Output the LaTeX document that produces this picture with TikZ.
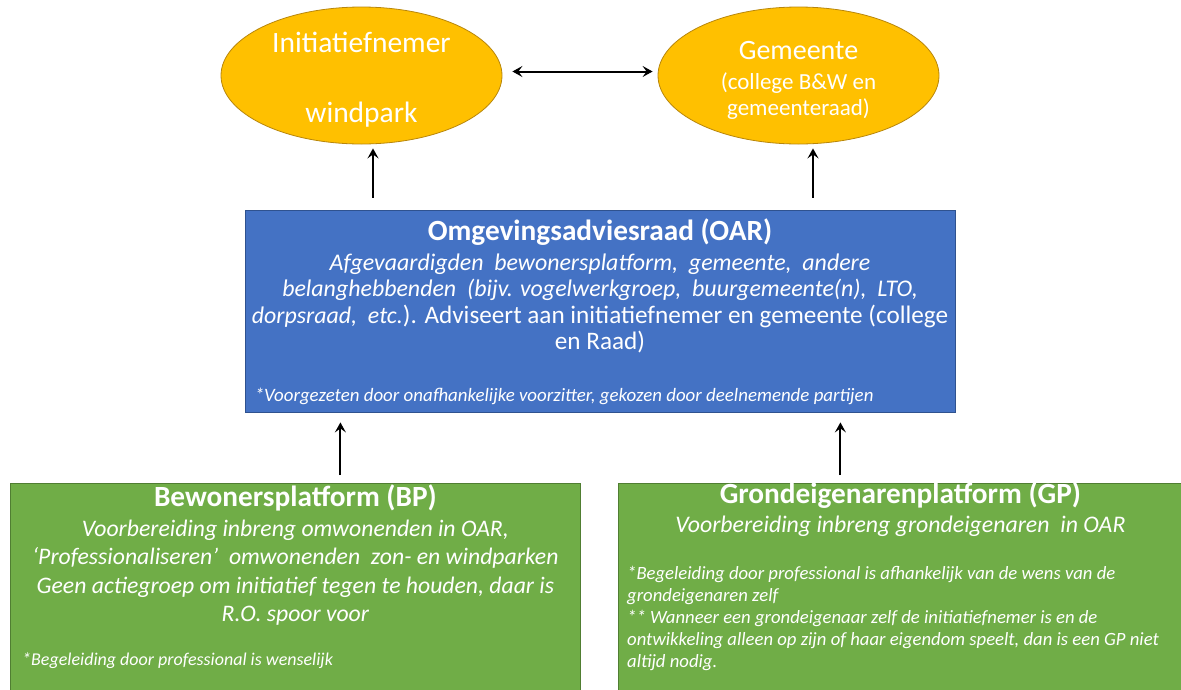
\documentclass[tikz,border=0pt]{standalone}
\usepackage{fontspec}
\setmainfont{Carlito}
\usetikzlibrary{shapes.geometric,arrows.meta,positioning}

\definecolor{partyfill}{HTML}{FFC000}
\definecolor{partyline}{HTML}{B8860B}
\definecolor{oarfill}{HTML}{4472C4}
\definecolor{oarline}{HTML}{2F528F}
\definecolor{bpfill}{HTML}{70AD47}
\definecolor{bpline}{HTML}{507E32}

\begin{document}
\begin{tikzpicture}[x=1pt,y=-1pt,
  >={Stealth[length=10pt,width=11pt,inset=4pt]},
  flow/.style={line width=2pt,->},
  party/.style={ellipse,draw=partyline,line width=0.8pt,fill=partyfill,inner sep=0pt,minimum width=281pt,minimum height=137pt},
  partytext/.style={text=white,align=center,inner sep=0pt},
  panel/.style={rectangle,draw=#1line,fill=#1fill,line width=0.8pt,inner sep=0pt},
  heading/.style={text=white,font=\bfseries\fontsize{29.3}{32}\selectfont,inner sep=0pt},
  body/.style={text=white,align=center,inner sep=0pt},
  remark/.style={text=white,align=left,inner sep=0pt}
]
\useasboundingbox (0,0) rectangle (1181,689);
\clip (0,0) rectangle (1181,689);

% initiatiefnemer en gemeente
\node[party] (ini) at (361.5,75.5) {};
\node[partytext,font=\fontsize{29.5}{34}\selectfont] (initext) at ([yshift=-4pt]ini.center) {Initiatiefnemer\\[36pt]windpark};
\node[party] (gem) at (798.5,75.5) {};
\node[partytext,font=\fontsize{23}{26.5}\selectfont] (gemtext) at ([yshift=-5pt]gem.center) {{\fontsize{28}{30}\selectfont Gemeente}\\[3pt](college B\&W en\\gemeenteraad)};
\draw[flow,<->,shorten <=10pt,shorten >=5pt] ([yshift=4pt]ini.east) -- ([yshift=4pt]gem.west);

% omgevingsadviesraad
\node[panel=oar,minimum width=710pt,minimum height=202pt] (oar) at (600,311) {};
\node[heading,anchor=base] (oartitle) at ([yshift=-31pt]oar.north) {Omgevingsadviesraad (OAR)};
\node[body,anchor=north,font=\fontsize{25.2}{26.5}\selectfont] (oarbody) at ([yshift=-44pt]oar.north)
  {{\itshape\fontsize{23.9}{26.5}\selectfont Afgevaardigden \ bewonersplatform, \ gemeente, \ andere}\\
   {\itshape\fontsize{23.9}{26.5}\selectfont belanghebbenden \ (bijv. vogelwerkgroep, \ buurgemeente(n), \ LTO,}\\
   {\itshape\fontsize{23.9}{26.5}\selectfont dorpsraad, \ etc.}). Adviseert aan initiatiefnemer en gemeente (college\\
   en Raad)};
\node[remark,anchor=base west,font=\itshape\fontsize{18.9}{20}\selectfont] (oarnote) at ([xshift=10pt,yshift=11pt]oar.south west)
  {*Voorgezeten door onafhankelijke voorzitter, gekozen door deelnemende partijen};

% bewonersplatform
\node[panel=bp,minimum width=570pt,minimum height=230pt,anchor=north west] (bp) at (10,483) {};
\node[heading,anchor=base] (bptitle) at ([yshift=-23pt]bp.north) {Bewonersplatform (BP)};
\node[body,anchor=north,font=\itshape\fontsize{23.7}{28.5}\selectfont] (bpbody) at ([yshift=-36.5pt]bp.north)
  {Voorbereiding inbreng omwonenden in OAR,\\
   ‘Professionaliseren’ \ omwonenden \ zon- en windparken\\
   Geen actiegroep om initiatief tegen te houden, daar is\\
   R.O. spoor voor};
\node[remark,anchor=base west,font=\itshape\fontsize{18}{20}\selectfont] (bpnote) at ([xshift=12pt,yshift=-182pt]bp.north west)
  {*Begeleiding door professional is wenselijk};

% grondeigenarenplatform
\node[panel=bp,minimum width=564pt,minimum height=230pt,anchor=north west] (gp) at (618,483) {};
\node[heading,anchor=base] (gptitle) at ([yshift=-20pt]gp.north) {Grondeigenarenplatform (GP)};
\node[body,anchor=base,font=\itshape\fontsize{23.8}{26}\selectfont] (gpbody) at ([yshift=-49pt]gp.north)
  {Voorbereiding inbreng grondeigenaren \ in OAR};
\node[remark,anchor=north west,font=\itshape\fontsize{18.7}{22}\selectfont] (gpnote) at ([xshift=9pt,yshift=-83pt]gp.north west)
  {*Begeleiding door professional is afhankelijk van de wens van de\\
   grondeigenaren zelf\\
   ** Wanneer een grondeigenaar zelf de initiatiefnemer is en de\\
   ontwikkeling alleen op zijn of haar eigendom speelt, dan is een GP niet\\
   altijd nodig.};

% pijlen
\coordinate (iniarrow) at ([xshift=11.5pt]ini.south);
\coordinate (gemarrow) at ([xshift=14.5pt]gem.south);
\coordinate (bparrow) at ([xshift=45pt]bp.north);
\coordinate (gparrow) at ([xshift=-60pt]gp.north);
\draw[flow,shorten <=12pt,shorten >=4pt] (oar.north -| iniarrow) -- (iniarrow);
\draw[flow,shorten <=12pt,shorten >=4pt] (oar.north -| gemarrow) -- (gemarrow);
\draw[flow,shorten <=8pt,shorten >=10pt] (bparrow) -- (bparrow |- oar.south);
\draw[flow,shorten <=8pt,shorten >=10pt] (gparrow) -- (gparrow |- oar.south);
\end{tikzpicture}
\end{document}
